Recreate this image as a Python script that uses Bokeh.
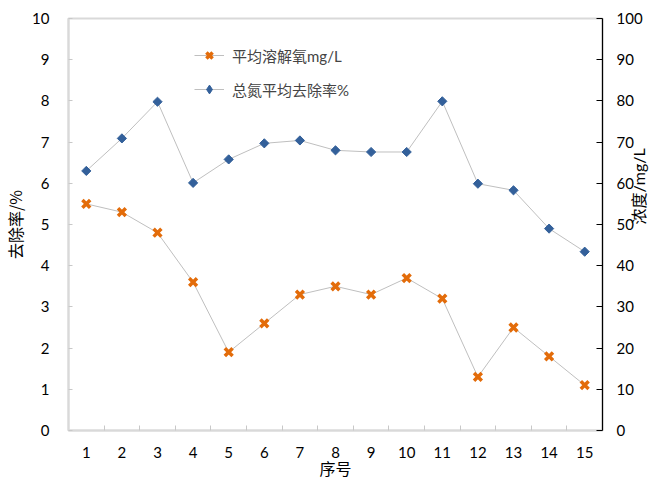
import math
from bokeh.plotting import figure
from bokeh.models import (Range1d, LinearAxis, FixedTicker, Legend, LegendItem)
from bokeh.embed import file_html
from bokeh.resources import INLINE

# sample numbers along the x axis
samples = [1, 2, 3, 4, 5, 6, 7, 8, 9, 10, 11, 12, 13, 14, 15]
# average dissolved oxygen, read on the left axis
oxygen = [5.5, 5.3, 4.8, 3.6, 1.9, 2.6, 3.3, 3.5, 3.3, 3.7, 3.2, 1.3, 2.5, 1.8, 1.1]
# average total-nitrogen removal, read on the right axis
tn_removal = [63.0, 70.9, 79.8, 60.1, 65.8, 69.7, 70.4, 68.0, 67.6, 67.6, 79.9, 59.9, 58.3, 49.0, 43.4]

left_ticks = [0, 1, 2, 3, 4, 5, 6, 7, 8, 9, 10]
right_ticks = [0, 10, 20, 30, 40, 50, 60, 70, 80, 90, 100]
x_ticks = samples
x_bounds = [0.5, 1.5, 2.5, 3.5, 4.5, 5.5, 6.5, 7.5, 8.5, 9.5, 10.5, 11.5, 12.5, 13.5, 14.5, 15.5]

ORANGE = "#E36C0A"
BLUE = "#33609A"
LINK = "#BFBFBF"
FRAME = "#D9D9D9"
NUM_FONT = "Lato"
CJK_FONT = "Noto Sans CJK SC"
MIXED_FONT = "Lato, Noto Sans CJK SC"

p = figure(width=660, height=482, output_backend="svg", toolbar_location=None,
           x_range=Range1d(0.5, 15.5), y_range=Range1d(0, 10),
           min_border_left=68, min_border_right=57, min_border_top=18,
           min_border_bottom=52)
p.xgrid.visible = False
p.ygrid.visible = False
p.outline_line_color = FRAME
p.outline_line_width = 2
p.background_fill_color = "white"
p.border_fill_color = "white"

p.extra_y_ranges = {"right": Range1d(0, 100)}

# bottom axis: labels on the samples, tick marks between them
xa = p.xaxis[0]
xa.ticker = FixedTicker(ticks=x_ticks, minor_ticks=x_bounds)
xa.axis_line_color = FRAME
xa.axis_line_width = 2
xa.major_tick_line_color = None
xa.minor_tick_line_color = "#C8C8C8"
xa.minor_tick_in = 5
xa.minor_tick_out = 0
xa.major_label_standoff = 10
xa.major_label_text_font = NUM_FONT
xa.major_label_text_font_size = "15px"
xa.major_label_text_color = "#000000"
xa.axis_label = "序号"
xa.axis_label_text_font = CJK_FONT
xa.axis_label_text_font_style = "normal"
xa.axis_label_text_font_size = "16px"
xa.axis_label_text_color = "#000000"
xa.axis_label_standoff = -5

ya = p.yaxis[0]
ya.ticker = FixedTicker(ticks=left_ticks)
ya.axis_line_color = FRAME
ya.axis_line_width = 2
ya.major_tick_line_color = "#C8C8C8"
ya.major_tick_in = 4
ya.major_tick_out = 0
ya.minor_tick_line_color = None
ya.major_label_standoff = 19
ya.major_label_text_font = NUM_FONT
ya.major_label_text_font_size = "15px"
ya.major_label_text_color = "#000000"
ya.axis_label = "去除率/%"
ya.axis_label_text_font = CJK_FONT
ya.axis_label_text_font_style = "normal"
ya.axis_label_text_font_size = "16px"
ya.axis_label_text_color = "#000000"
ya.axis_label_standoff = 2

ra = LinearAxis(y_range_name="right", ticker=FixedTicker(ticks=right_ticks))
ra.axis_line_color = "#000000"
ra.axis_line_width = 1.2
ra.major_tick_line_color = "#000000"
ra.major_tick_in = 6
ra.major_tick_out = 0
ra.minor_tick_line_color = None
ra.major_label_standoff = 14
ra.major_label_text_font = NUM_FONT
ra.major_label_text_font_size = "15px"
ra.major_label_text_color = "#000000"
ra.axis_label = "浓度/mg/L"
ra.axis_label_text_font = MIXED_FONT
ra.axis_label_text_font_style = "normal"
ra.axis_label_text_font_size = "16px"
ra.axis_label_text_color = "#000000"
ra.axis_label_standoff = -7
if "axis_label_orientation" in ra.properties():
    # read the right-hand title upwards, like the left one
    ra.axis_label_orientation = math.pi / 2
p.add_layout(ra, "right")

# dissolved oxygen series
ox_line = p.line(samples, oxygen, line_color=LINK, line_width=1)
ox_pts = p.scatter(samples, oxygen, marker="x", size=11, line_color=ORANGE,
                   line_width=3.5)

# total nitrogen removal series; the diamond proxy gives the legend its shape
tn_line = p.line(samples, tn_removal, line_color=LINK, line_width=1,
                 y_range_name="right")
tn_key = p.scatter(samples[:1], tn_removal[:1], marker="diamond", size=8,
                   fill_color=BLUE, line_color=BLUE, y_range_name="right")
tn_pts = p.scatter(samples, tn_removal, marker="square", size=6.5, angle=math.pi / 4,
                   fill_color=BLUE, line_color=BLUE, y_range_name="right")

legend = Legend(items=[
    LegendItem(label="平均溶解氧mg/L", renderers=[ox_line, ox_pts]),
    LegendItem(label="总氮平均去除率%", renderers=[tn_line, tn_key]),
], location=(126, 330))
legend.border_line_color = None
legend.background_fill_alpha = 0
legend.label_text_font = MIXED_FONT
legend.label_text_font_size = "15px"
legend.glyph_width = 30
legend.glyph_height = 22
legend.label_height = 20
legend.spacing = 12
legend.padding = 0
legend.margin = 0
legend.label_standoff = 8
p.add_layout(legend, "center")

open("out.html", "w").write(file_html(p, INLINE))
